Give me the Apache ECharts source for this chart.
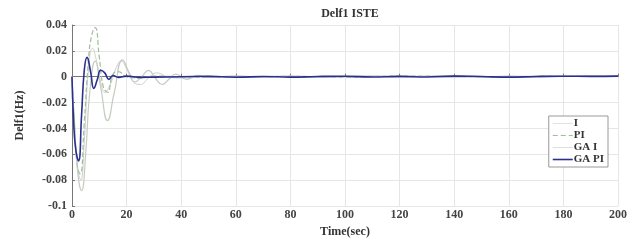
<!DOCTYPE html>
<html>
<head>
<meta charset="utf-8">
<script src="https://cdn.jsdelivr.net/npm/echarts@6/dist/echarts.min.js"></script>
<style>
  html, body { margin: 0; padding: 0; background: #fff; }
  #main { width: 640px; height: 243px; }
</style>
</head>
<body>
<div id="main"></div>
<script>
var myChart = echarts.init(document.getElementById('main'));

// tick labels
var yTicks = [0.04, 0.02, 0, -0.02, -0.04, -0.06, -0.08, -0.1];
var xTicks = [0, 20, 40, 60, 80, 100, 120, 140, 160, 180, 200];

// I
var tI = [0, 0.8, 2, 3.2, 4.5, 6, 7.5, 9, 10.5, 12, 14, 16, 18, 20, 22.5, 25, 28, 31, 35, 40, 50, 60, 80, 100, 120, 140, 160, 180, 200];
var vI = [0, -0.03, -0.068, -0.08, -0.05, 0.005, 0.022, 0.012, -0.004, -0.012, -0.006, 0.006, 0.012, 0.006, -0.004, -0.006, -0.001, 0.003, 0, -0.001, 0.0005, -0.0005, 0.0004, -0.0003, 0.0006, -0.0004, 0.0003, 0.0005, 0.0003];

// PI
var tPI = [0, 0.8, 2, 3, 4.5, 6, 7.2, 8.5, 10, 11.5, 13, 15, 17, 20, 25, 30, 40, 60, 80, 100, 120, 140, 160, 180, 200];
var vPI = [0, -0.035, -0.07, -0.075, -0.035, 0.012, 0.032, 0.038, 0.015, -0.008, -0.012, 0.002, 0.004, 0, -0.001, 0.0005, 0, -0.0004, 0.0003, -0.0003, 0.0005, 0.0002, -0.0003, 0.0004, 0.0003];

// GA I
var tGAI = [0, 1, 2.3, 3.5, 5, 6.5, 8.5, 10.5, 13, 15.5, 18.5, 21, 23, 25.5, 28, 30.5, 33, 35.5, 38, 42, 46, 50, 60, 70, 80, 90, 100, 110, 120, 130, 140, 150, 160, 170, 180, 190, 200];
var vGAI = [0, -0.04, -0.078, -0.088, -0.06, -0.012, 0.012, -0.008, -0.034, -0.012, 0.013, 0.003, -0.004, 0.0, 0.005, -0.001, -0.006, -0.002, 0.002, -0.002, 0.001, -0.0005, 0.0006, -0.0004, 0.0005, -0.0006, 0.0004, 0.0006, -0.0003, 0.0005, 0.0008, -0.0004, 0.0005, -0.0003, 0.0004, 0.0006, 0.0004];

// GA PI
var tGAPI = [0, 0.5, 1.3, 2.4, 3.5, 4.5, 5.5, 6.8, 8, 9.3, 10.5, 12, 13.5, 15, 17, 20, 25, 30, 40, 50, 60, 70, 80, 90, 100, 110, 120, 130, 140, 150, 160, 170, 180, 190, 200];
var vGAPI = [0, -0.03, -0.055, -0.065, -0.03, 0.005, 0.015, 0.004, -0.009, -0.002, 0.005, 0.003, -0.002, 0.001, -0.0005, 0.0005, -0.0005, -0.0003, 0, 0.0003, -0.0004, 0.0002, -0.0003, 0.0002, 0.0004, -0.0002, 0.0003, -0.0002, 0.0005, 0.0002, -0.0003, 0.0002, 0.0004, 0.0003, 0.0005];

function pairs(t, v) {
  return t.map(function (x, i) { return [x, v[i]]; });
}

var serif = 'Liberation Serif';

option = {
  backgroundColor: '#fff',
  animation: false,
  title: {
    text: 'Delf1 ISTE',
    left: 345,
    top: 3,
    textAlign: 'center',
    textStyle: { fontFamily: serif, fontSize: 12, fontWeight: 'bold', color: '#333' }
  },
  grid: { left: 72, right: 22, top: 25, bottom: 30 },
  legend: {
    right: 32,
    top: 116,
    orient: 'vertical',
    itemGap: 1,
    itemWidth: 20,
    itemHeight: 10,
    padding: [2, 4, 2, 4],
    backgroundColor: '#fff',
    borderColor: '#999',
    borderWidth: 1,
    textStyle: { fontFamily: serif, fontSize: 11, fontWeight: 'bold', color: '#333', padding: [0, 0, 0, -4] },
    data: [
      { name: 'I', icon: 'path://M0,5L20,5L20,5.6L0,5.6Z' },
      { name: 'PI', icon: 'path://M0,5L5,5L5,6L0,6ZM8,5L13,5L13,6L8,6ZM16,5L20,5L20,6L16,6Z' },
      { name: 'GA I', icon: 'path://M0,5L20,5L20,5.6L0,5.6Z' },
      { name: 'GA PI', icon: 'path://M0,4.7L20,4.7L20,6.3L0,6.3Z' }
    ]
  },
  xAxis: {
    type: 'value',
    min: 0,
    max: 200,
    interval: 20,
    name: 'Time(sec)',
    nameLocation: 'middle',
    nameGap: 14,
    nameTextStyle: { fontFamily: serif, fontSize: 12, fontWeight: 'bold', color: '#333' },
    axisLine: { lineStyle: { color: '#777' } },
    axisTick: { inside: true, length: 3, lineStyle: { color: '#777' } },
    axisLabel: { fontFamily: serif, fontSize: 12, fontWeight: 'bold', color: '#444', margin: 3 },
    splitLine: { show: true, lineStyle: { color: '#e6e6e6' } }
  },
  yAxis: {
    type: 'value',
    min: -0.1,
    max: 0.04,
    interval: 0.02,
    name: 'Delf1(Hz)',
    nameLocation: 'middle',
    nameGap: 46,
    nameTextStyle: { fontFamily: serif, fontSize: 12, fontWeight: 'bold', color: '#333' },
    axisLine: { show: true, lineStyle: { color: '#777' } },
    axisTick: { show: true, inside: true, length: 3, lineStyle: { color: '#777' } },
    axisLabel: {
      fontFamily: serif, fontSize: 12, fontWeight: 'bold', color: '#444', margin: 5,
      formatter: function (v) { return String(Math.round(v * 100) / 100); }
    },
    splitLine: { show: true, lineStyle: { color: '#e6e6e6' } }
  },
  series: [
    {
      name: 'I', type: 'line', smooth: 0.5, showSymbol: false,
      itemStyle: { color: '#cfcfcf' },
      lineStyle: { color: '#cfcfcf', width: 1 },
      data: pairs(tI, vI)
    },
    {
      name: 'PI', type: 'line', smooth: 0.5, showSymbol: false,
      itemStyle: { color: '#9fbf9a' },
      lineStyle: { color: '#9fbf9a', width: 1.2, type: 'dashed' },
      data: pairs(tPI, vPI)
    },
    {
      name: 'GA I', type: 'line', smooth: 0.5, showSymbol: false,
      itemStyle: { color: '#c4ccc0' },
      lineStyle: { color: '#c4ccc0', width: 1.2 },
      data: pairs(tGAI, vGAI)
    },
    {
      name: 'GA PI', type: 'line', smooth: 0.5, showSymbol: false,
      itemStyle: { color: '#2b2f8e' },
      lineStyle: { color: '#2b2f8e', width: 1.6 },
      data: pairs(tGAPI, vGAPI)
    }
  ]
};
myChart.setOption(option);
window.onresize = function () {
  myChart.resize();
};
</script>
</body>
</html>
